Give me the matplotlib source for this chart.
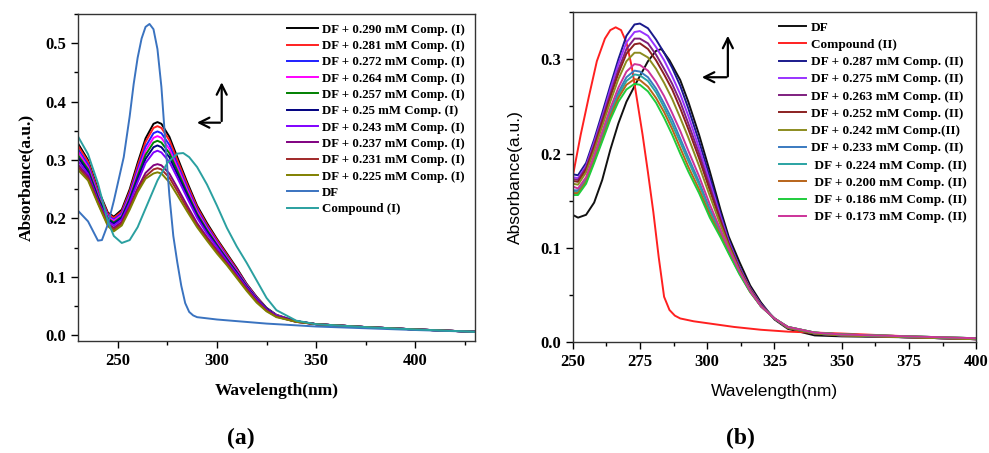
import numpy as np
import matplotlib
matplotlib.use("Agg")
import matplotlib.pyplot as plt
from matplotlib.ticker import MultipleLocator, FormatStrFormatter

# ---------------- panel (a) data ----------------
wl_a = [230, 235, 240, 245, 248, 252, 256, 260, 264, 268, 270, 272, 276, 280, 285,
        290, 295, 300, 305, 310, 315, 320, 325, 330, 340, 350, 375, 400, 430]

abs_a_290 = [.328, .300, .250, .210, .203, .215, .250, .295, .337, .362, .365, .362, .340, .305, .262,
             .222, .192, .165, .140, .115, .088, .066, .047, .035, .024, .019, .014, .010, .006]
abs_a_281 = [.324, .297, .247, .208, .201, .212, .246, .290, .331, .355, .358, .355, .334, .300, .258,
             .219, .189, .163, .138, .113, .087, .065, .046, .034, .024, .019, .014, .010, .006]
abs_a_272 = [.318, .292, .243, .205, .198, .209, .242, .284, .323, .346, .349, .346, .326, .293, .253,
             .215, .186, .160, .135, .111, .086, .064, .046, .034, .024, .019, .014, .010, .006]
abs_a_264 = [.314, .288, .240, .203, .196, .206, .238, .279, .316, .338, .341, .338, .319, .288, .249,
             .212, .183, .158, .133, .110, .085, .063, .045, .034, .024, .019, .014, .010, .006]
abs_a_257 = [.308, .284, .237, .200, .193, .203, .234, .273, .309, .330, .333, .330, .312, .282, .244,
             .208, .180, .155, .131, .108, .084, .062, .045, .033, .024, .019, .014, .010, .006]
abs_a_250 = [.304, .280, .234, .198, .191, .201, .231, .268, .302, .322, .325, .322, .305, .276, .240,
             .205, .177, .153, .129, .107, .083, .062, .045, .033, .024, .019, .014, .010, .006]
abs_a_243 = [.298, .276, .231, .195, .188, .198, .227, .262, .295, .313, .316, .313, .297, .270, .235,
             .201, .174, .151, .127, .105, .082, .061, .044, .033, .023, .019, .014, .010, .006]
abs_a_237 = [.292, .272, .229, .191, .184, .194, .221, .252, .278, .291, .293, .291, .277, .253, .222,
             .192, .168, .146, .124, .102, .080, .059, .043, .032, .023, .019, .014, .010, .006]
abs_a_231 = [.288, .268, .227, .189, .181, .191, .218, .248, .272, .284, .286, .284, .270, .247, .217,
             .188, .165, .143, .122, .100, .078, .058, .042, .032, .023, .019, .014, .010, .006]
abs_a_225 = [.283, .265, .225, .187, .178, .188, .215, .245, .268, .277, .279, .277, .262, .240, .212,
             .185, .162, .140, .120, .098, .076, .056, .041, .031, .023, .019, .014, .010, .006]

wl_a_df = [230, 235, 240, 242, 245, 248, 250, 253, 256, 258, 260, 262, 264, 266, 268, 270, 272, 274,
           276, 278, 280, 282, 284, 286, 288, 290, 300, 325, 350, 400, 430]
abs_a_df = [.213, .195, .162, .163, .190, .230, .260, .305, .375, .430, .475, .508, .528, .533, .524, .490,
            .425, .330, .240, .170, .125, .085, .055, .040, .034, .031, .027, .020, .015, .009, .006]

wl_a_comp = [230, 235, 240, 245, 248, 252, 256, 260, 265, 270, 275, 280, 283, 286, 290, 295, 300,
             305, 310, 315, 320, 325, 330, 340, 350, 375, 400, 430]
abs_a_comp = [.340, .310, .260, .195, .170, .158, .163, .185, .225, .265, .295, .311, .312, .305, .288,
              .258, .222, .184, .152, .124, .094, .064, .043, .025, .019, .014, .010, .006]

labels_a = ["DF + 0.290 mM Comp. (I)", "DF + 0.281 mM Comp. (I)", "DF + 0.272 mM Comp. (I)",
            "DF + 0.264 mM Comp. (I)", "DF + 0.257 mM Comp. (I)", "DF + 0.25 mM Comp. (I)",
            "DF + 0.243 mM Comp. (I)", "DF + 0.237 mM Comp. (I)", "DF + 0.231 mM Comp. (I)",
            "DF + 0.225 mM Comp. (I)"]
series_a = [abs_a_290, abs_a_281, abs_a_272, abs_a_264, abs_a_257,
            abs_a_250, abs_a_243, abs_a_237, abs_a_231, abs_a_225]
colors_a = ["#000000", "#ff2020", "#1f1fff", "#ff00ff", "#008000",
            "#000080", "#8000ff", "#800080", "#a02828", "#808000"]

# ---------------- panel (b) data ----------------
wl_b = [250, 252, 255, 258, 261, 264, 267, 270, 273, 275, 278, 281, 284, 287, 290,
        293, 297, 301, 305, 308, 312, 316, 320, 325, 330, 340, 350, 375, 400]

abs_b_287 = [.178, .177, .190, .215, .243, .272, .300, .325, .337, .338, .333, .321, .307, .291, .272,
             .248, .213, .175, .136, .109, .080, .057, .040, .025, .015, .009, .007, .005, .003]
abs_b_275 = [.175, .174, .187, .212, .239, .268, .295, .318, .329, .330, .325, .313, .299, .282, .263,
             .240, .206, .170, .133, .107, .079, .057, .040, .025, .015, .009, .007, .005, .003]
abs_b_263 = [.173, .172, .185, .209, .236, .263, .289, .311, .322, .322, .317, .305, .290, .274, .255,
             .232, .200, .165, .130, .105, .078, .056, .039, .025, .015, .009, .007, .005, .003]
abs_b_252 = [.171, .170, .183, .207, .233, .260, .285, .306, .316, .317, .311, .299, .284, .268, .248,
             .226, .195, .161, .128, .104, .077, .056, .039, .025, .015, .009, .007, .005, .003]
abs_b_242 = [.168, .167, .180, .203, .229, .255, .279, .298, .307, .307, .302, .290, .275, .258, .238,
             .217, .187, .155, .124, .102, .076, .055, .038, .025, .015, .009, .007, .005, .003]
abs_b_233 = [.161, .161, .173, .196, .220, .244, .265, .281, .288, .287, .281, .269, .253, .236, .216,
             .196, .170, .141, .117, .097, .074, .054, .038, .025, .016, .010, .008, .006, .004]
abs_b_224 = [.160, .159, .171, .194, .218, .242, .262, .277, .284, .283, .277, .265, .249, .231, .212,
             .192, .167, .139, .115, .096, .073, .054, .038, .025, .016, .010, .008, .006, .004]
abs_b_200 = [.158, .158, .170, .192, .215, .239, .259, .273, .279, .278, .271, .259, .244, .226, .206,
             .186, .162, .135, .113, .095, .073, .053, .038, .025, .016, .010, .008, .006, .004]
abs_b_186 = [.156, .156, .168, .190, .213, .236, .255, .268, .274, .273, .266, .254, .238, .220, .200,
             .181, .158, .132, .111, .094, .072, .053, .038, .025, .016, .010, .008, .006, .004]
abs_b_173 = [.165, .163, .175, .198, .223, .248, .270, .287, .295, .294, .288, .276, .261, .243, .224,
             .203, .176, .146, .119, .099, .075, .054, .038, .025, .016, .010, .008, .006, .004]

wl_b_df = [250, 252, 255, 258, 261, 264, 267, 270, 274, 278, 281, 283, 286, 290, 293, 297, 301,
           305, 308, 312, 316, 320, 325, 330, 340, 350, 375, 400]
abs_b_df = [.135, .132, .135, .148, .172, .204, .232, .255, .277, .298, .309, .311, .299, .278, .255,
            .220, .181, .140, .112, .085, .060, .042, .024, .014, .007, .006, .005, .003]

wl_b_comp = [250, 253, 256, 259, 262, 264, 266, 268, 270, 272, 274, 276, 278, 280, 282, 284, 286, 288,
             290, 295, 300, 310, 320, 330, 350, 375, 400]
abs_b_comp = [.175, .220, .260, .298, .322, .331, .334, .331, .318, .292, .256, .220, .180, .138, .090,
              .048, .034, .028, .025, .022, .020, .016, .013, .011, .009, .006, .003]

labels_b = ["DF + 0.287 mM Comp. (II)", "DF + 0.275 mM Comp. (II)", "DF + 0.263 mM Comp. (II)",
            "DF + 0.252 mM Comp. (II)", "DF + 0.242 mM Comp.(II)", "DF + 0.233 mM Comp. (II)",
            " DF + 0.224 mM Comp. (II)", " DF + 0.200 mM Comp. (II)", " DF + 0.186 mM Comp. (II)",
            " DF + 0.173 mM Comp. (II)"]
series_b = [abs_b_287, abs_b_275, abs_b_263, abs_b_252, abs_b_242,
            abs_b_233, abs_b_224, abs_b_200, abs_b_186, abs_b_173]
colors_b = ["#1a1a8c", "#9933ff", "#7f1f7f", "#8b2020", "#8c8c1f",
            "#3a7ac0", "#2aa3a3", "#b8641a", "#1fcc3c", "#cc3399"]

SERIF = "Liberation Serif"
SANS = "Liberation Sans"
LW = 1.4


def style_axes(ax, xmajor, xminor, ymajor, yminor):
    ax.xaxis.set_major_locator(MultipleLocator(xmajor))
    ax.xaxis.set_minor_locator(MultipleLocator(xminor))
    ax.yaxis.set_major_locator(MultipleLocator(ymajor))
    ax.yaxis.set_minor_locator(MultipleLocator(yminor))
    ax.yaxis.set_major_formatter(FormatStrFormatter("%.1f"))
    ax.tick_params(which="major", direction="out", length=5, width=1.0, labelsize=12)
    ax.tick_params(which="minor", direction="out", length=3, width=1.0)
    for lab in ax.get_xticklabels() + ax.get_yticklabels():
        lab.set_fontfamily(SERIF)
        lab.set_fontweight("bold")
    for sp in ax.spines.values():
        sp.set_linewidth(1.0)
        sp.set_color("#333333")


fig = plt.figure(figsize=(9.89, 4.53), dpi=100)

# ---- (a) ----
ax1 = fig.add_axes([0.079, 0.247, 0.401, 0.722])
for y, c, lab in zip(series_a, colors_a, labels_a):
    ax1.plot(wl_a, y, color=c, lw=LW, label=lab)
ax1.plot(wl_a_df, abs_a_df, color="#3a73c0", lw=LW, label="DF")
ax1.plot(wl_a_comp, abs_a_comp, color="#2aa0a0", lw=LW, label="Compound (I)")
ax1.set_xlim(230, 430)
ax1.set_ylim(-0.01, 0.55)
style_axes(ax1, 50, 25, 0.1, 0.05)
ax1.set_xlabel("Wavelength(nm)", fontfamily=SERIF, fontweight="bold", fontsize=12.5, labelpad=10)
ax1.set_ylabel("Absorbance(a.u.)", fontfamily=SERIF, fontweight="bold", fontsize=12.5, labelpad=8)
ax1.legend(loc="upper right", bbox_to_anchor=(1.0, 1.0), frameon=False,
           prop={"family": SERIF, "weight": "bold", "size": 9.3},
           handlelength=2.4, labelspacing=0.33, handletextpad=0.35, borderaxespad=0.35)
# arrows
ax1.annotate("", xy=(302.4, 0.438), xytext=(302.4, 0.362),
             arrowprops=dict(arrowstyle="->", lw=1.6, color="black", mutation_scale=18))
ax1.annotate("", xy=(288.5, 0.364), xytext=(303.0, 0.364),
             arrowprops=dict(arrowstyle="->", lw=1.6, color="black", mutation_scale=18))

# ---- (b) ----
ax2 = fig.add_axes([0.579, 0.245, 0.408, 0.728])
ax2.plot(wl_b_df, abs_b_df, color="#111111", lw=LW, label="DF")
ax2.plot(wl_b_comp, abs_b_comp, color="#ff2020", lw=LW, label="Compound (II)")
for y, c, lab in zip(series_b, colors_b, labels_b):
    ax2.plot(wl_b, y, color=c, lw=LW, label=lab)
ax2.set_xlim(250, 400)
ax2.set_ylim(0, 0.35)
style_axes(ax2, 25, 12.5, 0.1, 0.05)
ax2.set_xlabel("Wavelength(nm)", fontfamily=SANS, fontsize=12.5, labelpad=10)
ax2.set_ylabel("Absorbance(a.u.)", fontfamily=SANS, fontsize=12.5, labelpad=12)
ax2.legend(loc="upper right", bbox_to_anchor=(1.0, 1.0), frameon=False,
           prop={"family": SERIF, "weight": "bold", "size": 9.5},
           handlelength=2.0, labelspacing=0.38, handletextpad=0.4, borderaxespad=0.3)
ax2.annotate("", xy=(307.7, 0.328), xytext=(307.7, 0.279),
             arrowprops=dict(arrowstyle="->", lw=1.6, color="black", mutation_scale=18))
ax2.annotate("", xy=(297.0, 0.281), xytext=(308.2, 0.281),
             arrowprops=dict(arrowstyle="->", lw=1.6, color="black", mutation_scale=18))

fig.text(0.243, 0.02, "(a)", fontfamily=SERIF, fontweight="bold", fontsize=17, ha="center")
fig.text(0.749, 0.02, "(b)", fontfamily=SERIF, fontweight="bold", fontsize=17, ha="center")

fig.savefig("out.png", dpi=100)
